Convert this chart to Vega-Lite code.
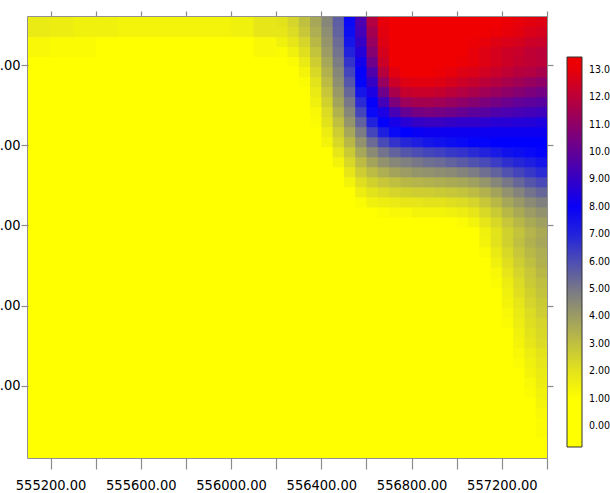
{
  "$schema": "https://vega.github.io/schema/vega-lite/v6.json",
  "autosize": {"type": "none"},
  "padding": {"left": 28, "top": 17, "right": 63, "bottom": 35},
  "width": 519,
  "height": 441,
  "background": "white",
  "config": {"view": {"stroke": "#6e6e6e", "strokeWidth": 1.5}},
  "datasets": {
    "coarse": [
{"e":555100,"n":2419340,"v":1.8},{"e":555200,"n":2419340,"v":1.7},{"e":555300,"n":2419340,"v":1.6},{"e":555400,"n":2419340,"v":1.6},{"e":555500,"n":2419340,"v":1.5},{"e":555600,"n":2419340,"v":1.5},{"e":555700,"n":2419340,"v":1.5},{"e":555800,"n":2419340,"v":1.5},{"e":555900,"n":2419340,"v":1.5},{"e":556000,"n":2419340,"v":1.6},{"e":556100,"n":2419340,"v":1.9},
{"e":555100,"n":2419240,"v":1.4},{"e":555200,"n":2419240,"v":1.3},{"e":555300,"n":2419240,"v":1.3},{"e":555400,"n":2419240,"v":1.2},{"e":555500,"n":2419240,"v":1.2},{"e":555600,"n":2419240,"v":1.2},{"e":555700,"n":2419240,"v":1.2},{"e":555800,"n":2419240,"v":1.2},{"e":555900,"n":2419240,"v":1.2},{"e":556000,"n":2419240,"v":1.2},{"e":556100,"n":2419240,"v":1.4},
{"e":555100,"n":2419140,"v":1.0},{"e":555200,"n":2419140,"v":0.9},{"e":555300,"n":2419140,"v":0.8},{"e":555400,"n":2419140,"v":0.7},{"e":555500,"n":2419140,"v":0.6},{"e":555600,"n":2419140,"v":0.6},{"e":555700,"n":2419140,"v":0.6},{"e":555800,"n":2419140,"v":0.6},{"e":555900,"n":2419140,"v":0.6},{"e":556000,"n":2419140,"v":0.7},{"e":556100,"n":2419140,"v":0.8},
{"e":555100,"n":2419040,"v":0.6},{"e":555200,"n":2419040,"v":0.5},{"e":555300,"n":2419040,"v":0.5},{"e":555400,"n":2419040,"v":0.4},{"e":555500,"n":2419040,"v":0.4},{"e":555600,"n":2419040,"v":0.4},{"e":555700,"n":2419040,"v":0.4},{"e":555800,"n":2419040,"v":0.4},{"e":555900,"n":2419040,"v":0.4},{"e":556000,"n":2419040,"v":0.5},{"e":556100,"n":2419040,"v":0.5},
{"e":555100,"n":2418940,"v":0.4},{"e":555200,"n":2418940,"v":0.4},{"e":555300,"n":2418940,"v":0.3},{"e":555400,"n":2418940,"v":0.3},{"e":555500,"n":2418940,"v":0.3},{"e":555600,"n":2418940,"v":0.3},{"e":555700,"n":2418940,"v":0.3},{"e":555800,"n":2418940,"v":0.3},{"e":555900,"n":2418940,"v":0.3},{"e":556000,"n":2418940,"v":0.3},{"e":556100,"n":2418940,"v":0.4},
{"e":555100,"n":2418840,"v":0.3},{"e":555200,"n":2418840,"v":0.3},{"e":555300,"n":2418840,"v":0.3},{"e":555400,"n":2418840,"v":0.2},{"e":555500,"n":2418840,"v":0.2},{"e":555600,"n":2418840,"v":0.2},{"e":555700,"n":2418840,"v":0.2},{"e":555800,"n":2418840,"v":0.2},{"e":555900,"n":2418840,"v":0.2},{"e":556000,"n":2418840,"v":0.3},{"e":556100,"n":2418840,"v":0.3},
{"e":555100,"n":2418740,"v":0.3},{"e":555200,"n":2418740,"v":0.2},{"e":555300,"n":2418740,"v":0.2},{"e":555400,"n":2418740,"v":0.2},{"e":555500,"n":2418740,"v":0.2},{"e":555600,"n":2418740,"v":0.2},{"e":555700,"n":2418740,"v":0.2},{"e":555800,"n":2418740,"v":0.2},{"e":555900,"n":2418740,"v":0.2},{"e":556000,"n":2418740,"v":0.2},{"e":556100,"n":2418740,"v":0.3},
{"e":555100,"n":2418640,"v":0.2},{"e":555200,"n":2418640,"v":0.2},{"e":555300,"n":2418640,"v":0.2},{"e":555400,"n":2418640,"v":0.2},{"e":555500,"n":2418640,"v":0.2},{"e":555600,"n":2418640,"v":0.2},{"e":555700,"n":2418640,"v":0.2},{"e":555800,"n":2418640,"v":0.2},{"e":555900,"n":2418640,"v":0.2},{"e":556000,"n":2418640,"v":0.2},{"e":556100,"n":2418640,"v":0.2},
{"e":555100,"n":2418540,"v":0.2},{"e":555200,"n":2418540,"v":0.2},{"e":555300,"n":2418540,"v":0.2},{"e":555400,"n":2418540,"v":0.2},{"e":555500,"n":2418540,"v":0.2},{"e":555600,"n":2418540,"v":0.2},{"e":555700,"n":2418540,"v":0.2},{"e":555800,"n":2418540,"v":0.2},{"e":555900,"n":2418540,"v":0.2},{"e":556000,"n":2418540,"v":0.2},{"e":556100,"n":2418540,"v":0.2},
{"e":555100,"n":2418440,"v":0.2},{"e":555200,"n":2418440,"v":0.2},{"e":555300,"n":2418440,"v":0.2},{"e":555400,"n":2418440,"v":0.2},{"e":555500,"n":2418440,"v":0.2},{"e":555600,"n":2418440,"v":0.2},{"e":555700,"n":2418440,"v":0.2},{"e":555800,"n":2418440,"v":0.2},{"e":555900,"n":2418440,"v":0.2},{"e":556000,"n":2418440,"v":0.2},{"e":556100,"n":2418440,"v":0.2},
{"e":555100,"n":2418340,"v":0.2},{"e":555200,"n":2418340,"v":0.2},{"e":555300,"n":2418340,"v":0.2},{"e":555400,"n":2418340,"v":0.2},{"e":555500,"n":2418340,"v":0.2},{"e":555600,"n":2418340,"v":0.2},{"e":555700,"n":2418340,"v":0.2},{"e":555800,"n":2418340,"v":0.2},{"e":555900,"n":2418340,"v":0.2},{"e":556000,"n":2418340,"v":0.2},{"e":556100,"n":2418340,"v":0.2},
{"e":555100,"n":2418240,"v":0.2},{"e":555200,"n":2418240,"v":0.2},{"e":555300,"n":2418240,"v":0.2},{"e":555400,"n":2418240,"v":0.2},{"e":555500,"n":2418240,"v":0.2},{"e":555600,"n":2418240,"v":0.2},{"e":555700,"n":2418240,"v":0.2},{"e":555800,"n":2418240,"v":0.2},{"e":555900,"n":2418240,"v":0.2},{"e":556000,"n":2418240,"v":0.2},{"e":556100,"n":2418240,"v":0.2},{"e":556200,"n":2418240,"v":0.2},{"e":556300,"n":2418240,"v":0.2},{"e":556400,"n":2418240,"v":0.2},{"e":556500,"n":2418240,"v":0.3},{"e":556600,"n":2418240,"v":0.4},{"e":556700,"n":2418240,"v":0.5},{"e":556800,"n":2418240,"v":0.6},{"e":556900,"n":2418240,"v":0.7},
{"e":555100,"n":2418140,"v":0.2},{"e":555200,"n":2418140,"v":0.2},{"e":555300,"n":2418140,"v":0.2},{"e":555400,"n":2418140,"v":0.2},{"e":555500,"n":2418140,"v":0.2},{"e":555600,"n":2418140,"v":0.2},{"e":555700,"n":2418140,"v":0.2},{"e":555800,"n":2418140,"v":0.2},{"e":555900,"n":2418140,"v":0.2},{"e":556000,"n":2418140,"v":0.2},{"e":556100,"n":2418140,"v":0.2},{"e":556200,"n":2418140,"v":0.2},{"e":556300,"n":2418140,"v":0.2},{"e":556400,"n":2418140,"v":0.2},{"e":556500,"n":2418140,"v":0.2},{"e":556600,"n":2418140,"v":0.2},{"e":556700,"n":2418140,"v":0.3},{"e":556800,"n":2418140,"v":0.4},{"e":556900,"n":2418140,"v":0.6},
{"e":555100,"n":2418040,"v":0.2},{"e":555200,"n":2418040,"v":0.2},{"e":555300,"n":2418040,"v":0.2},{"e":555400,"n":2418040,"v":0.2},{"e":555500,"n":2418040,"v":0.2},{"e":555600,"n":2418040,"v":0.2},{"e":555700,"n":2418040,"v":0.2},{"e":555800,"n":2418040,"v":0.2},{"e":555900,"n":2418040,"v":0.2},{"e":556000,"n":2418040,"v":0.2},{"e":556100,"n":2418040,"v":0.2},{"e":556200,"n":2418040,"v":0.2},{"e":556300,"n":2418040,"v":0.2},{"e":556400,"n":2418040,"v":0.2},{"e":556500,"n":2418040,"v":0.2},{"e":556600,"n":2418040,"v":0.2},{"e":556700,"n":2418040,"v":0.2},{"e":556800,"n":2418040,"v":0.3},{"e":556900,"n":2418040,"v":0.5},
{"e":555100,"n":2417940,"v":0.2},{"e":555200,"n":2417940,"v":0.2},{"e":555300,"n":2417940,"v":0.2},{"e":555400,"n":2417940,"v":0.2},{"e":555500,"n":2417940,"v":0.2},{"e":555600,"n":2417940,"v":0.2},{"e":555700,"n":2417940,"v":0.2},{"e":555800,"n":2417940,"v":0.2},{"e":555900,"n":2417940,"v":0.2},{"e":556000,"n":2417940,"v":0.2},{"e":556100,"n":2417940,"v":0.2},{"e":556200,"n":2417940,"v":0.2},{"e":556300,"n":2417940,"v":0.2},{"e":556400,"n":2417940,"v":0.2},{"e":556500,"n":2417940,"v":0.2},{"e":556600,"n":2417940,"v":0.2},{"e":556700,"n":2417940,"v":0.2},{"e":556800,"n":2417940,"v":0.2},{"e":556900,"n":2417940,"v":0.4},
{"e":555100,"n":2417840,"v":0.2},{"e":555200,"n":2417840,"v":0.2},{"e":555300,"n":2417840,"v":0.2},{"e":555400,"n":2417840,"v":0.2},{"e":555500,"n":2417840,"v":0.2},{"e":555600,"n":2417840,"v":0.2},{"e":555700,"n":2417840,"v":0.2},{"e":555800,"n":2417840,"v":0.2},{"e":555900,"n":2417840,"v":0.2},{"e":556000,"n":2417840,"v":0.2},{"e":556100,"n":2417840,"v":0.2},{"e":556200,"n":2417840,"v":0.2},{"e":556300,"n":2417840,"v":0.2},{"e":556400,"n":2417840,"v":0.2},{"e":556500,"n":2417840,"v":0.2},{"e":556600,"n":2417840,"v":0.2},{"e":556700,"n":2417840,"v":0.2},{"e":556800,"n":2417840,"v":0.2},{"e":556900,"n":2417840,"v":0.2},
{"e":555100,"n":2417740,"v":0.2},{"e":555200,"n":2417740,"v":0.2},{"e":555300,"n":2417740,"v":0.2},{"e":555400,"n":2417740,"v":0.2},{"e":555500,"n":2417740,"v":0.2},{"e":555600,"n":2417740,"v":0.2},{"e":555700,"n":2417740,"v":0.2},{"e":555800,"n":2417740,"v":0.2},{"e":555900,"n":2417740,"v":0.2},{"e":556000,"n":2417740,"v":0.2},{"e":556100,"n":2417740,"v":0.2},{"e":556200,"n":2417740,"v":0.2},{"e":556300,"n":2417740,"v":0.2},{"e":556400,"n":2417740,"v":0.2},{"e":556500,"n":2417740,"v":0.2},{"e":556600,"n":2417740,"v":0.2},{"e":556700,"n":2417740,"v":0.2},{"e":556800,"n":2417740,"v":0.2},{"e":556900,"n":2417740,"v":0.2},
{"e":555100,"n":2417640,"v":0.2},{"e":555200,"n":2417640,"v":0.2},{"e":555300,"n":2417640,"v":0.2},{"e":555400,"n":2417640,"v":0.2},{"e":555500,"n":2417640,"v":0.2},{"e":555600,"n":2417640,"v":0.2},{"e":555700,"n":2417640,"v":0.2},{"e":555800,"n":2417640,"v":0.2},{"e":555900,"n":2417640,"v":0.2},{"e":556000,"n":2417640,"v":0.2},{"e":556100,"n":2417640,"v":0.2},{"e":556200,"n":2417640,"v":0.2},{"e":556300,"n":2417640,"v":0.2},{"e":556400,"n":2417640,"v":0.2},{"e":556500,"n":2417640,"v":0.2},{"e":556600,"n":2417640,"v":0.2},{"e":556700,"n":2417640,"v":0.2},{"e":556800,"n":2417640,"v":0.2},{"e":556900,"n":2417640,"v":0.2},
{"e":555100,"n":2417540,"v":0.2},{"e":555200,"n":2417540,"v":0.2},{"e":555300,"n":2417540,"v":0.2},{"e":555400,"n":2417540,"v":0.2},{"e":555500,"n":2417540,"v":0.2},{"e":555600,"n":2417540,"v":0.2},{"e":555700,"n":2417540,"v":0.2},{"e":555800,"n":2417540,"v":0.2},{"e":555900,"n":2417540,"v":0.2},{"e":556000,"n":2417540,"v":0.2},{"e":556100,"n":2417540,"v":0.2},{"e":556200,"n":2417540,"v":0.2},{"e":556300,"n":2417540,"v":0.2},{"e":556400,"n":2417540,"v":0.2},{"e":556500,"n":2417540,"v":0.2},{"e":556600,"n":2417540,"v":0.2},{"e":556700,"n":2417540,"v":0.2},{"e":556800,"n":2417540,"v":0.2},{"e":556900,"n":2417540,"v":0.2},
{"e":555100,"n":2417440,"v":0.2},{"e":555200,"n":2417440,"v":0.2},{"e":555300,"n":2417440,"v":0.2},{"e":555400,"n":2417440,"v":0.2},{"e":555500,"n":2417440,"v":0.2},{"e":555600,"n":2417440,"v":0.2},{"e":555700,"n":2417440,"v":0.2},{"e":555800,"n":2417440,"v":0.2},{"e":555900,"n":2417440,"v":0.2},{"e":556000,"n":2417440,"v":0.2},{"e":556100,"n":2417440,"v":0.2},{"e":556200,"n":2417440,"v":0.2},{"e":556300,"n":2417440,"v":0.2},{"e":556400,"n":2417440,"v":0.2},{"e":556500,"n":2417440,"v":0.2},{"e":556600,"n":2417440,"v":0.2},{"e":556700,"n":2417440,"v":0.2},{"e":556800,"n":2417440,"v":0.2},{"e":556900,"n":2417440,"v":0.2},
{"e":555100,"n":2417340,"v":0.2},{"e":555200,"n":2417340,"v":0.2},{"e":555300,"n":2417340,"v":0.2},{"e":555400,"n":2417340,"v":0.2},{"e":555500,"n":2417340,"v":0.2},{"e":555600,"n":2417340,"v":0.2},{"e":555700,"n":2417340,"v":0.2},{"e":555800,"n":2417340,"v":0.2},{"e":555900,"n":2417340,"v":0.2},{"e":556000,"n":2417340,"v":0.2},{"e":556100,"n":2417340,"v":0.2},{"e":556200,"n":2417340,"v":0.2},{"e":556300,"n":2417340,"v":0.2},{"e":556400,"n":2417340,"v":0.2},{"e":556500,"n":2417340,"v":0.2},{"e":556600,"n":2417340,"v":0.2},{"e":556700,"n":2417340,"v":0.2},{"e":556800,"n":2417340,"v":0.2},{"e":556900,"n":2417340,"v":0.2},
{"e":555100,"n":2417240,"v":0.2},{"e":555200,"n":2417240,"v":0.2},{"e":555300,"n":2417240,"v":0.2},{"e":555400,"n":2417240,"v":0.2},{"e":555500,"n":2417240,"v":0.2},{"e":555600,"n":2417240,"v":0.2},{"e":555700,"n":2417240,"v":0.2},{"e":555800,"n":2417240,"v":0.2},{"e":555900,"n":2417240,"v":0.2},{"e":556000,"n":2417240,"v":0.2},{"e":556100,"n":2417240,"v":0.2},{"e":556200,"n":2417240,"v":0.2},{"e":556300,"n":2417240,"v":0.2},{"e":556400,"n":2417240,"v":0.2},{"e":556500,"n":2417240,"v":0.2},{"e":556600,"n":2417240,"v":0.2},{"e":556700,"n":2417240,"v":0.2},{"e":556800,"n":2417240,"v":0.2},{"e":556900,"n":2417240,"v":0.2}
    ],
    "fine": [
{"e":556200,"n":2419390,"v":2.0},{"e":556250,"n":2419390,"v":2.4},{"e":556300,"n":2419390,"v":3.0},{"e":556350,"n":2419390,"v":3.7},{"e":556400,"n":2419390,"v":4.6},{"e":556450,"n":2419390,"v":5.6},{"e":556500,"n":2419390,"v":7.6},{"e":556550,"n":2419390,"v":9.5},{"e":556600,"n":2419390,"v":11.8},{"e":556650,"n":2419390,"v":13.0},{"e":556700,"n":2419390,"v":13.4},{"e":556750,"n":2419390,"v":13.5},{"e":556800,"n":2419390,"v":13.5},{"e":556850,"n":2419390,"v":13.5},{"e":556900,"n":2419390,"v":13.5},{"e":556950,"n":2419390,"v":13.5},{"e":557000,"n":2419390,"v":13.4},{"e":557050,"n":2419390,"v":13.4},{"e":557100,"n":2419390,"v":13.3},{"e":557150,"n":2419390,"v":13.2},{"e":557200,"n":2419390,"v":13.1},{"e":557250,"n":2419390,"v":13.0},{"e":557300,"n":2419390,"v":12.9},{"e":557350,"n":2419390,"v":12.8},
{"e":556200,"n":2419340,"v":1.9},{"e":556250,"n":2419340,"v":2.2},{"e":556300,"n":2419340,"v":2.8},{"e":556350,"n":2419340,"v":3.5},{"e":556400,"n":2419340,"v":4.4},{"e":556450,"n":2419340,"v":5.5},{"e":556500,"n":2419340,"v":7.5},{"e":556550,"n":2419340,"v":9.3},{"e":556600,"n":2419340,"v":11.5},{"e":556650,"n":2419340,"v":12.9},{"e":556700,"n":2419340,"v":13.4},{"e":556750,"n":2419340,"v":13.5},{"e":556800,"n":2419340,"v":13.5},{"e":556850,"n":2419340,"v":13.5},{"e":556900,"n":2419340,"v":13.5},{"e":556950,"n":2419340,"v":13.5},{"e":557000,"n":2419340,"v":13.4},{"e":557050,"n":2419340,"v":13.3},{"e":557100,"n":2419340,"v":13.2},{"e":557150,"n":2419340,"v":13.1},{"e":557200,"n":2419340,"v":13.0},{"e":557250,"n":2419340,"v":12.9},{"e":557300,"n":2419340,"v":12.7},{"e":557350,"n":2419340,"v":12.6},
{"e":556200,"n":2419290,"v":1.6},{"e":556250,"n":2419290,"v":1.9},{"e":556300,"n":2419290,"v":2.4},{"e":556350,"n":2419290,"v":3.2},{"e":556400,"n":2419290,"v":4.2},{"e":556450,"n":2419290,"v":5.3},{"e":556500,"n":2419290,"v":7.3},{"e":556550,"n":2419290,"v":9.0},{"e":556600,"n":2419290,"v":11.2},{"e":556650,"n":2419290,"v":12.8},{"e":556700,"n":2419290,"v":13.3},{"e":556750,"n":2419290,"v":13.4},{"e":556800,"n":2419290,"v":13.4},{"e":556850,"n":2419290,"v":13.4},{"e":556900,"n":2419290,"v":13.4},{"e":556950,"n":2419290,"v":13.3},{"e":557000,"n":2419290,"v":13.2},{"e":557050,"n":2419290,"v":13.1},{"e":557100,"n":2419290,"v":13.0},{"e":557150,"n":2419290,"v":12.8},{"e":557200,"n":2419290,"v":12.7},{"e":557250,"n":2419290,"v":12.6},{"e":557300,"n":2419290,"v":12.4},{"e":557350,"n":2419290,"v":12.3},
{"e":556200,"n":2419240,"v":1.3},{"e":556250,"n":2419240,"v":1.6},{"e":556300,"n":2419240,"v":2.1},{"e":556350,"n":2419240,"v":2.9},{"e":556400,"n":2419240,"v":4.0},{"e":556450,"n":2419240,"v":5.1},{"e":556500,"n":2419240,"v":7.0},{"e":556550,"n":2419240,"v":8.6},{"e":556600,"n":2419240,"v":10.8},{"e":556650,"n":2419240,"v":12.6},{"e":556700,"n":2419240,"v":13.3},{"e":556750,"n":2419240,"v":13.4},{"e":556800,"n":2419240,"v":13.4},{"e":556850,"n":2419240,"v":13.4},{"e":556900,"n":2419240,"v":13.4},{"e":556950,"n":2419240,"v":13.3},{"e":557000,"n":2419240,"v":13.2},{"e":557050,"n":2419240,"v":13.0},{"e":557100,"n":2419240,"v":12.8},{"e":557150,"n":2419240,"v":12.6},{"e":557200,"n":2419240,"v":12.4},{"e":557250,"n":2419240,"v":12.3},{"e":557300,"n":2419240,"v":12.1},{"e":557350,"n":2419240,"v":12.0},
{"e":556200,"n":2419190,"v":1.1},{"e":556250,"n":2419190,"v":1.3},{"e":556300,"n":2419190,"v":1.8},{"e":556350,"n":2419190,"v":2.6},{"e":556400,"n":2419190,"v":3.7},{"e":556450,"n":2419190,"v":4.9},{"e":556500,"n":2419190,"v":6.6},{"e":556550,"n":2419190,"v":8.2},{"e":556600,"n":2419190,"v":10.3},{"e":556650,"n":2419190,"v":12.4},{"e":556700,"n":2419190,"v":13.2},{"e":556750,"n":2419190,"v":13.4},{"e":556800,"n":2419190,"v":13.4},{"e":556850,"n":2419190,"v":13.4},{"e":556900,"n":2419190,"v":13.3},{"e":556950,"n":2419190,"v":13.2},{"e":557000,"n":2419190,"v":13.1},{"e":557050,"n":2419190,"v":13.0},{"e":557100,"n":2419190,"v":12.8},{"e":557150,"n":2419190,"v":12.6},{"e":557200,"n":2419190,"v":12.4},{"e":557250,"n":2419190,"v":12.2},{"e":557300,"n":2419190,"v":12.1},{"e":557350,"n":2419190,"v":12.0},
{"e":556200,"n":2419140,"v":0.9},{"e":556250,"n":2419140,"v":1.1},{"e":556300,"n":2419140,"v":1.5},{"e":556350,"n":2419140,"v":2.3},{"e":556400,"n":2419140,"v":3.4},{"e":556450,"n":2419140,"v":4.6},{"e":556500,"n":2419140,"v":6.2},{"e":556550,"n":2419140,"v":7.9},{"e":556600,"n":2419140,"v":9.6},{"e":556650,"n":2419140,"v":11.9},{"e":556700,"n":2419140,"v":12.9},{"e":556750,"n":2419140,"v":13.2},{"e":556800,"n":2419140,"v":13.2},{"e":556850,"n":2419140,"v":13.2},{"e":556900,"n":2419140,"v":13.1},{"e":556950,"n":2419140,"v":13.0},{"e":557000,"n":2419140,"v":12.8},{"e":557050,"n":2419140,"v":12.7},{"e":557100,"n":2419140,"v":12.5},{"e":557150,"n":2419140,"v":12.3},{"e":557200,"n":2419140,"v":12.1},{"e":557250,"n":2419140,"v":11.9},{"e":557300,"n":2419140,"v":11.8},{"e":557350,"n":2419140,"v":11.6},
{"e":556200,"n":2419090,"v":0.8},{"e":556250,"n":2419090,"v":1.0},{"e":556300,"n":2419090,"v":1.3},{"e":556350,"n":2419090,"v":2.0},{"e":556400,"n":2419090,"v":3.1},{"e":556450,"n":2419090,"v":4.4},{"e":556500,"n":2419090,"v":5.8},{"e":556550,"n":2419090,"v":7.7},{"e":556600,"n":2419090,"v":9.0},{"e":556650,"n":2419090,"v":11.2},{"e":556700,"n":2419090,"v":12.4},{"e":556750,"n":2419090,"v":12.8},{"e":556800,"n":2419090,"v":12.9},{"e":556850,"n":2419090,"v":12.9},{"e":556900,"n":2419090,"v":12.8},{"e":556950,"n":2419090,"v":12.6},{"e":557000,"n":2419090,"v":12.4},{"e":557050,"n":2419090,"v":12.2},{"e":557100,"n":2419090,"v":12.0},{"e":557150,"n":2419090,"v":11.8},{"e":557200,"n":2419090,"v":11.6},{"e":557250,"n":2419090,"v":11.4},{"e":557300,"n":2419090,"v":11.2},{"e":557350,"n":2419090,"v":11.0},
{"e":556200,"n":2419040,"v":0.7},{"e":556250,"n":2419040,"v":0.9},{"e":556300,"n":2419040,"v":1.2},{"e":556350,"n":2419040,"v":1.8},{"e":556400,"n":2419040,"v":2.8},{"e":556450,"n":2419040,"v":4.1},{"e":556500,"n":2419040,"v":5.4},{"e":556550,"n":2419040,"v":7.3},{"e":556600,"n":2419040,"v":8.4},{"e":556650,"n":2419040,"v":10.3},{"e":556700,"n":2419040,"v":11.6},{"e":556750,"n":2419040,"v":12.2},{"e":556800,"n":2419040,"v":12.3},{"e":556850,"n":2419040,"v":12.3},{"e":556900,"n":2419040,"v":12.2},{"e":556950,"n":2419040,"v":12.0},{"e":557000,"n":2419040,"v":11.8},{"e":557050,"n":2419040,"v":11.6},{"e":557100,"n":2419040,"v":11.4},{"e":557150,"n":2419040,"v":11.2},{"e":557200,"n":2419040,"v":11.0},{"e":557250,"n":2419040,"v":10.8},{"e":557300,"n":2419040,"v":10.6},{"e":557350,"n":2419040,"v":10.4},
{"e":556200,"n":2418990,"v":0.6},{"e":556250,"n":2418990,"v":0.8},{"e":556300,"n":2418990,"v":1.1},{"e":556350,"n":2418990,"v":1.6},{"e":556400,"n":2418990,"v":2.5},{"e":556450,"n":2418990,"v":3.8},{"e":556500,"n":2418990,"v":5.0},{"e":556550,"n":2418990,"v":6.8},{"e":556600,"n":2418990,"v":7.9},{"e":556650,"n":2418990,"v":9.3},{"e":556700,"n":2418990,"v":10.6},{"e":556750,"n":2418990,"v":11.3},{"e":556800,"n":2418990,"v":11.5},{"e":556850,"n":2418990,"v":11.5},{"e":556900,"n":2418990,"v":11.4},{"e":556950,"n":2418990,"v":11.2},{"e":557000,"n":2418990,"v":11.0},{"e":557050,"n":2418990,"v":10.8},{"e":557100,"n":2418990,"v":10.6},{"e":557150,"n":2418990,"v":10.4},{"e":557200,"n":2418990,"v":10.2},{"e":557250,"n":2418990,"v":10.0},{"e":557300,"n":2418990,"v":9.9},{"e":557350,"n":2418990,"v":9.8},
{"e":556200,"n":2418940,"v":0.6},{"e":556250,"n":2418940,"v":0.7},{"e":556300,"n":2418940,"v":1.0},{"e":556350,"n":2418940,"v":1.4},{"e":556400,"n":2418940,"v":2.2},{"e":556450,"n":2418940,"v":3.4},{"e":556500,"n":2418940,"v":4.6},{"e":556550,"n":2418940,"v":6.2},{"e":556600,"n":2418940,"v":7.6},{"e":556650,"n":2418940,"v":8.4},{"e":556700,"n":2418940,"v":9.4},{"e":556750,"n":2418940,"v":10.1},{"e":556800,"n":2418940,"v":10.4},{"e":556850,"n":2418940,"v":10.5},{"e":556900,"n":2418940,"v":10.4},{"e":556950,"n":2418940,"v":10.3},{"e":557000,"n":2418940,"v":10.1},{"e":557050,"n":2418940,"v":9.9},{"e":557100,"n":2418940,"v":9.8},{"e":557150,"n":2418940,"v":9.6},{"e":557200,"n":2418940,"v":9.5},{"e":557250,"n":2418940,"v":9.4},{"e":557300,"n":2418940,"v":9.3},{"e":557350,"n":2418940,"v":9.2},
{"e":556200,"n":2418890,"v":0.5},{"e":556250,"n":2418890,"v":0.6},{"e":556300,"n":2418890,"v":0.9},{"e":556350,"n":2418890,"v":1.3},{"e":556400,"n":2418890,"v":2.0},{"e":556450,"n":2418890,"v":3.0},{"e":556500,"n":2418890,"v":4.2},{"e":556550,"n":2418890,"v":5.5},{"e":556600,"n":2418890,"v":7.0},{"e":556650,"n":2418890,"v":7.9},{"e":556700,"n":2418890,"v":8.3},{"e":556750,"n":2418890,"v":8.7},{"e":556800,"n":2418890,"v":9.0},{"e":556850,"n":2418890,"v":9.1},{"e":556900,"n":2418890,"v":9.1},{"e":556950,"n":2418890,"v":9.0},{"e":557000,"n":2418890,"v":8.9},{"e":557050,"n":2418890,"v":8.9},{"e":557100,"n":2418890,"v":8.8},{"e":557150,"n":2418890,"v":8.7},{"e":557200,"n":2418890,"v":8.7},{"e":557250,"n":2418890,"v":8.6},{"e":557300,"n":2418890,"v":8.6},{"e":557350,"n":2418890,"v":8.5},
{"e":556200,"n":2418840,"v":0.5},{"e":556250,"n":2418840,"v":0.6},{"e":556300,"n":2418840,"v":0.8},{"e":556350,"n":2418840,"v":1.1},{"e":556400,"n":2418840,"v":1.7},{"e":556450,"n":2418840,"v":2.6},{"e":556500,"n":2418840,"v":3.7},{"e":556550,"n":2418840,"v":4.9},{"e":556600,"n":2418840,"v":6.2},{"e":556650,"n":2418840,"v":7.1},{"e":556700,"n":2418840,"v":7.6},{"e":556750,"n":2418840,"v":7.8},{"e":556800,"n":2418840,"v":8.0},{"e":556850,"n":2418840,"v":8.1},{"e":556900,"n":2418840,"v":8.1},{"e":556950,"n":2418840,"v":8.1},{"e":557000,"n":2418840,"v":8.1},{"e":557050,"n":2418840,"v":8.1},{"e":557100,"n":2418840,"v":8.1},{"e":557150,"n":2418840,"v":8.1},{"e":557200,"n":2418840,"v":8.1},{"e":557250,"n":2418840,"v":8.1},{"e":557300,"n":2418840,"v":8.1},{"e":557350,"n":2418840,"v":8.1},
{"e":556200,"n":2418790,"v":0.4},{"e":556250,"n":2418790,"v":0.5},{"e":556300,"n":2418790,"v":0.7},{"e":556350,"n":2418790,"v":1.0},{"e":556400,"n":2418790,"v":1.5},{"e":556450,"n":2418790,"v":2.3},{"e":556500,"n":2418790,"v":3.2},{"e":556550,"n":2418790,"v":4.3},{"e":556600,"n":2418790,"v":5.3},{"e":556650,"n":2418790,"v":6.1},{"e":556700,"n":2418790,"v":6.6},{"e":556750,"n":2418790,"v":6.9},{"e":556800,"n":2418790,"v":7.1},{"e":556850,"n":2418790,"v":7.3},{"e":556900,"n":2418790,"v":7.4},{"e":556950,"n":2418790,"v":7.5},{"e":557000,"n":2418790,"v":7.6},{"e":557050,"n":2418790,"v":7.7},{"e":557100,"n":2418790,"v":7.7},{"e":557150,"n":2418790,"v":7.8},{"e":557200,"n":2418790,"v":7.8},{"e":557250,"n":2418790,"v":7.8},{"e":557300,"n":2418790,"v":7.8},{"e":557350,"n":2418790,"v":7.8},
{"e":556200,"n":2418740,"v":0.4},{"e":556250,"n":2418740,"v":0.5},{"e":556300,"n":2418740,"v":0.6},{"e":556350,"n":2418740,"v":0.8},{"e":556400,"n":2418740,"v":1.2},{"e":556450,"n":2418740,"v":1.9},{"e":556500,"n":2418740,"v":2.7},{"e":556550,"n":2418740,"v":3.7},{"e":556600,"n":2418740,"v":4.5},{"e":556650,"n":2418740,"v":5.1},{"e":556700,"n":2418740,"v":5.5},{"e":556750,"n":2418740,"v":5.8},{"e":556800,"n":2418740,"v":6.0},{"e":556850,"n":2418740,"v":6.2},{"e":556900,"n":2418740,"v":6.3},{"e":556950,"n":2418740,"v":6.5},{"e":557000,"n":2418740,"v":6.6},{"e":557050,"n":2418740,"v":6.8},{"e":557100,"n":2418740,"v":7.0},{"e":557150,"n":2418740,"v":7.2},{"e":557200,"n":2418740,"v":7.4},{"e":557250,"n":2418740,"v":7.5},{"e":557300,"n":2418740,"v":7.6},{"e":557350,"n":2418740,"v":7.7},
{"e":556200,"n":2418690,"v":0.3},{"e":556250,"n":2418690,"v":0.4},{"e":556300,"n":2418690,"v":0.5},{"e":556350,"n":2418690,"v":0.7},{"e":556400,"n":2418690,"v":1.0},{"e":556450,"n":2418690,"v":1.5},{"e":556500,"n":2418690,"v":2.3},{"e":556550,"n":2418690,"v":3.1},{"e":556600,"n":2418690,"v":3.8},{"e":556650,"n":2418690,"v":4.3},{"e":556700,"n":2418690,"v":4.6},{"e":556750,"n":2418690,"v":4.8},{"e":556800,"n":2418690,"v":5.0},{"e":556850,"n":2418690,"v":5.2},{"e":556900,"n":2418690,"v":5.3},{"e":556950,"n":2418690,"v":5.5},{"e":557000,"n":2418690,"v":5.7},{"e":557050,"n":2418690,"v":5.9},{"e":557100,"n":2418690,"v":6.1},{"e":557150,"n":2418690,"v":6.4},{"e":557200,"n":2418690,"v":6.7},{"e":557250,"n":2418690,"v":6.9},{"e":557300,"n":2418690,"v":7.1},{"e":557350,"n":2418690,"v":7.3},
{"e":556200,"n":2418640,"v":0.3},{"e":556250,"n":2418640,"v":0.3},{"e":556300,"n":2418640,"v":0.4},{"e":556350,"n":2418640,"v":0.6},{"e":556400,"n":2418640,"v":0.8},{"e":556450,"n":2418640,"v":1.2},{"e":556500,"n":2418640,"v":1.9},{"e":556550,"n":2418640,"v":2.6},{"e":556600,"n":2418640,"v":3.1},{"e":556650,"n":2418640,"v":3.5},{"e":556700,"n":2418640,"v":3.8},{"e":556750,"n":2418640,"v":4.0},{"e":556800,"n":2418640,"v":4.2},{"e":556850,"n":2418640,"v":4.3},{"e":556900,"n":2418640,"v":4.4},{"e":556950,"n":2418640,"v":4.5},{"e":557000,"n":2418640,"v":4.7},{"e":557050,"n":2418640,"v":4.9},{"e":557100,"n":2418640,"v":5.2},{"e":557150,"n":2418640,"v":5.5},{"e":557200,"n":2418640,"v":5.9},{"e":557250,"n":2418640,"v":6.2},{"e":557300,"n":2418640,"v":6.5},{"e":557350,"n":2418640,"v":6.8},
{"e":556200,"n":2418590,"v":0.3},{"e":556250,"n":2418590,"v":0.3},{"e":556300,"n":2418590,"v":0.4},{"e":556350,"n":2418590,"v":0.5},{"e":556400,"n":2418590,"v":0.6},{"e":556450,"n":2418590,"v":0.9},{"e":556500,"n":2418590,"v":1.5},{"e":556550,"n":2418590,"v":2.1},{"e":556600,"n":2418590,"v":2.5},{"e":556650,"n":2418590,"v":2.8},{"e":556700,"n":2418590,"v":3.0},{"e":556750,"n":2418590,"v":3.2},{"e":556800,"n":2418590,"v":3.3},{"e":556850,"n":2418590,"v":3.4},{"e":556900,"n":2418590,"v":3.5},{"e":556950,"n":2418590,"v":3.6},{"e":557000,"n":2418590,"v":3.7},{"e":557050,"n":2418590,"v":3.9},{"e":557100,"n":2418590,"v":4.2},{"e":557150,"n":2418590,"v":4.6},{"e":557200,"n":2418590,"v":5.0},{"e":557250,"n":2418590,"v":5.4},{"e":557300,"n":2418590,"v":5.8},{"e":557350,"n":2418590,"v":6.1},
{"e":556200,"n":2418540,"v":0.2},{"e":556250,"n":2418540,"v":0.3},{"e":556300,"n":2418540,"v":0.3},{"e":556350,"n":2418540,"v":0.4},{"e":556400,"n":2418540,"v":0.5},{"e":556450,"n":2418540,"v":0.7},{"e":556500,"n":2418540,"v":1.2},{"e":556550,"n":2418540,"v":1.7},{"e":556600,"n":2418540,"v":2.0},{"e":556650,"n":2418540,"v":2.2},{"e":556700,"n":2418540,"v":2.4},{"e":556750,"n":2418540,"v":2.5},{"e":556800,"n":2418540,"v":2.6},{"e":556850,"n":2418540,"v":2.6},{"e":556900,"n":2418540,"v":2.7},{"e":556950,"n":2418540,"v":2.8},{"e":557000,"n":2418540,"v":2.9},{"e":557050,"n":2418540,"v":3.1},{"e":557100,"n":2418540,"v":3.4},{"e":557150,"n":2418540,"v":3.8},{"e":557200,"n":2418540,"v":4.3},{"e":557250,"n":2418540,"v":4.7},{"e":557300,"n":2418540,"v":5.1},{"e":557350,"n":2418540,"v":5.4},
{"e":556200,"n":2418490,"v":0.2},{"e":556250,"n":2418490,"v":0.2},{"e":556300,"n":2418490,"v":0.3},{"e":556350,"n":2418490,"v":0.3},{"e":556400,"n":2418490,"v":0.4},{"e":556450,"n":2418490,"v":0.5},{"e":556500,"n":2418490,"v":0.9},{"e":556550,"n":2418490,"v":1.3},{"e":556600,"n":2418490,"v":1.6},{"e":556650,"n":2418490,"v":1.7},{"e":556700,"n":2418490,"v":1.8},{"e":556750,"n":2418490,"v":1.9},{"e":556800,"n":2418490,"v":1.9},{"e":556850,"n":2418490,"v":2.0},{"e":556900,"n":2418490,"v":2.0},{"e":556950,"n":2418490,"v":2.1},{"e":557000,"n":2418490,"v":2.2},{"e":557050,"n":2418490,"v":2.4},{"e":557100,"n":2418490,"v":2.8},{"e":557150,"n":2418490,"v":3.2},{"e":557200,"n":2418490,"v":3.7},{"e":557250,"n":2418490,"v":4.1},{"e":557300,"n":2418490,"v":4.5},{"e":557350,"n":2418490,"v":4.8},
{"e":556200,"n":2418440,"v":0.2},{"e":556250,"n":2418440,"v":0.2},{"e":556300,"n":2418440,"v":0.2},{"e":556350,"n":2418440,"v":0.3},{"e":556400,"n":2418440,"v":0.3},{"e":556450,"n":2418440,"v":0.4},{"e":556500,"n":2418440,"v":0.6},{"e":556550,"n":2418440,"v":1.0},{"e":556600,"n":2418440,"v":1.2},{"e":556650,"n":2418440,"v":1.3},{"e":556700,"n":2418440,"v":1.4},{"e":556750,"n":2418440,"v":1.4},{"e":556800,"n":2418440,"v":1.5},{"e":556850,"n":2418440,"v":1.5},{"e":556900,"n":2418440,"v":1.5},{"e":556950,"n":2418440,"v":1.6},{"e":557000,"n":2418440,"v":1.7},{"e":557050,"n":2418440,"v":1.9},{"e":557100,"n":2418440,"v":2.3},{"e":557150,"n":2418440,"v":2.7},{"e":557200,"n":2418440,"v":3.2},{"e":557250,"n":2418440,"v":3.6},{"e":557300,"n":2418440,"v":4.0},{"e":557350,"n":2418440,"v":4.3},
{"e":556200,"n":2418390,"v":0.2},{"e":556250,"n":2418390,"v":0.2},{"e":556300,"n":2418390,"v":0.2},{"e":556350,"n":2418390,"v":0.2},{"e":556400,"n":2418390,"v":0.3},{"e":556450,"n":2418390,"v":0.3},{"e":556500,"n":2418390,"v":0.4},{"e":556550,"n":2418390,"v":0.7},{"e":556600,"n":2418390,"v":0.9},{"e":556650,"n":2418390,"v":1.0},{"e":556700,"n":2418390,"v":1.0},{"e":556750,"n":2418390,"v":1.1},{"e":556800,"n":2418390,"v":1.1},{"e":556850,"n":2418390,"v":1.1},{"e":556900,"n":2418390,"v":1.1},{"e":556950,"n":2418390,"v":1.2},{"e":557000,"n":2418390,"v":1.3},{"e":557050,"n":2418390,"v":1.5},{"e":557100,"n":2418390,"v":1.9},{"e":557150,"n":2418390,"v":2.3},{"e":557200,"n":2418390,"v":2.8},{"e":557250,"n":2418390,"v":3.2},{"e":557300,"n":2418390,"v":3.6},{"e":557350,"n":2418390,"v":3.9},
{"e":556200,"n":2418340,"v":0.2},{"e":556250,"n":2418340,"v":0.2},{"e":556300,"n":2418340,"v":0.2},{"e":556350,"n":2418340,"v":0.2},{"e":556400,"n":2418340,"v":0.2},{"e":556450,"n":2418340,"v":0.3},{"e":556500,"n":2418340,"v":0.3},{"e":556550,"n":2418340,"v":0.5},{"e":556600,"n":2418340,"v":0.7},{"e":556650,"n":2418340,"v":0.8},{"e":556700,"n":2418340,"v":0.8},{"e":556750,"n":2418340,"v":0.8},{"e":556800,"n":2418340,"v":0.9},{"e":556850,"n":2418340,"v":0.9},{"e":556900,"n":2418340,"v":0.9},{"e":556950,"n":2418340,"v":1.0},{"e":557000,"n":2418340,"v":1.1},{"e":557050,"n":2418340,"v":1.2},{"e":557100,"n":2418340,"v":1.6},{"e":557150,"n":2418340,"v":2.0},{"e":557200,"n":2418340,"v":2.5},{"e":557250,"n":2418340,"v":2.9},{"e":557300,"n":2418340,"v":3.3},{"e":557350,"n":2418340,"v":3.6},
{"e":557000,"n":2418290,"v":0.9},{"e":557050,"n":2418290,"v":1.1},{"e":557100,"n":2418290,"v":1.5},{"e":557150,"n":2418290,"v":2.0},{"e":557200,"n":2418290,"v":2.5},{"e":557250,"n":2418290,"v":3.0},{"e":557300,"n":2418290,"v":3.4},{"e":557350,"n":2418290,"v":3.7},
{"e":557000,"n":2418240,"v":0.8},{"e":557050,"n":2418240,"v":1.0},{"e":557100,"n":2418240,"v":1.3},{"e":557150,"n":2418240,"v":1.8},{"e":557200,"n":2418240,"v":2.3},{"e":557250,"n":2418240,"v":2.8},{"e":557300,"n":2418240,"v":3.2},{"e":557350,"n":2418240,"v":3.5},
{"e":557000,"n":2418190,"v":0.7},{"e":557050,"n":2418190,"v":0.9},{"e":557100,"n":2418190,"v":1.2},{"e":557150,"n":2418190,"v":1.6},{"e":557200,"n":2418190,"v":2.1},{"e":557250,"n":2418190,"v":2.6},{"e":557300,"n":2418190,"v":3.0},{"e":557350,"n":2418190,"v":3.4},
{"e":557000,"n":2418140,"v":0.6},{"e":557050,"n":2418140,"v":0.8},{"e":557100,"n":2418140,"v":1.1},{"e":557150,"n":2418140,"v":1.4},{"e":557200,"n":2418140,"v":1.9},{"e":557250,"n":2418140,"v":2.4},{"e":557300,"n":2418140,"v":2.8},{"e":557350,"n":2418140,"v":3.2},
{"e":557000,"n":2418090,"v":0.5},{"e":557050,"n":2418090,"v":0.7},{"e":557100,"n":2418090,"v":1.0},{"e":557150,"n":2418090,"v":1.3},{"e":557200,"n":2418090,"v":1.7},{"e":557250,"n":2418090,"v":2.2},{"e":557300,"n":2418090,"v":2.7},{"e":557350,"n":2418090,"v":3.0},
{"e":557000,"n":2418040,"v":0.5},{"e":557050,"n":2418040,"v":0.6},{"e":557100,"n":2418040,"v":0.9},{"e":557150,"n":2418040,"v":1.2},{"e":557200,"n":2418040,"v":1.6},{"e":557250,"n":2418040,"v":2.1},{"e":557300,"n":2418040,"v":2.5},{"e":557350,"n":2418040,"v":2.9},
{"e":557000,"n":2417990,"v":0.4},{"e":557050,"n":2417990,"v":0.6},{"e":557100,"n":2417990,"v":0.8},{"e":557150,"n":2417990,"v":1.1},{"e":557200,"n":2417990,"v":1.5},{"e":557250,"n":2417990,"v":1.9},{"e":557300,"n":2417990,"v":2.4},{"e":557350,"n":2417990,"v":2.7},
{"e":557000,"n":2417940,"v":0.4},{"e":557050,"n":2417940,"v":0.5},{"e":557100,"n":2417940,"v":0.7},{"e":557150,"n":2417940,"v":1.0},{"e":557200,"n":2417940,"v":1.4},{"e":557250,"n":2417940,"v":1.8},{"e":557300,"n":2417940,"v":2.2},{"e":557350,"n":2417940,"v":2.6},
{"e":557000,"n":2417890,"v":0.3},{"e":557050,"n":2417890,"v":0.5},{"e":557100,"n":2417890,"v":0.7},{"e":557150,"n":2417890,"v":0.9},{"e":557200,"n":2417890,"v":1.3},{"e":557250,"n":2417890,"v":1.7},{"e":557300,"n":2417890,"v":2.1},{"e":557350,"n":2417890,"v":2.4},
{"e":557000,"n":2417840,"v":0.3},{"e":557050,"n":2417840,"v":0.4},{"e":557100,"n":2417840,"v":0.6},{"e":557150,"n":2417840,"v":0.9},{"e":557200,"n":2417840,"v":1.2},{"e":557250,"n":2417840,"v":1.6},{"e":557300,"n":2417840,"v":2.0},{"e":557350,"n":2417840,"v":2.3},
{"e":557000,"n":2417790,"v":0.3},{"e":557050,"n":2417790,"v":0.4},{"e":557100,"n":2417790,"v":0.6},{"e":557150,"n":2417790,"v":0.8},{"e":557200,"n":2417790,"v":1.1},{"e":557250,"n":2417790,"v":1.5},{"e":557300,"n":2417790,"v":1.9},{"e":557350,"n":2417790,"v":2.2},
{"e":557000,"n":2417740,"v":0.3},{"e":557050,"n":2417740,"v":0.3},{"e":557100,"n":2417740,"v":0.5},{"e":557150,"n":2417740,"v":0.7},{"e":557200,"n":2417740,"v":1.0},{"e":557250,"n":2417740,"v":1.4},{"e":557300,"n":2417740,"v":1.7},{"e":557350,"n":2417740,"v":2.0},
{"e":557000,"n":2417690,"v":0.2},{"e":557050,"n":2417690,"v":0.3},{"e":557100,"n":2417690,"v":0.5},{"e":557150,"n":2417690,"v":0.7},{"e":557200,"n":2417690,"v":1.0},{"e":557250,"n":2417690,"v":1.3},{"e":557300,"n":2417690,"v":1.6},{"e":557350,"n":2417690,"v":1.9},
{"e":557000,"n":2417640,"v":0.2},{"e":557050,"n":2417640,"v":0.3},{"e":557100,"n":2417640,"v":0.4},{"e":557150,"n":2417640,"v":0.6},{"e":557200,"n":2417640,"v":0.9},{"e":557250,"n":2417640,"v":1.2},{"e":557300,"n":2417640,"v":1.5},{"e":557350,"n":2417640,"v":1.8},
{"e":557000,"n":2417590,"v":0.2},{"e":557050,"n":2417590,"v":0.3},{"e":557100,"n":2417590,"v":0.4},{"e":557150,"n":2417590,"v":0.6},{"e":557200,"n":2417590,"v":0.8},{"e":557250,"n":2417590,"v":1.1},{"e":557300,"n":2417590,"v":1.4},{"e":557350,"n":2417590,"v":1.7},
{"e":557000,"n":2417540,"v":0.2},{"e":557050,"n":2417540,"v":0.2},{"e":557100,"n":2417540,"v":0.4},{"e":557150,"n":2417540,"v":0.5},{"e":557200,"n":2417540,"v":0.8},{"e":557250,"n":2417540,"v":1.0},{"e":557300,"n":2417540,"v":1.3},{"e":557350,"n":2417540,"v":1.6},
{"e":557000,"n":2417490,"v":0.2},{"e":557050,"n":2417490,"v":0.2},{"e":557100,"n":2417490,"v":0.3},{"e":557150,"n":2417490,"v":0.5},{"e":557200,"n":2417490,"v":0.7},{"e":557250,"n":2417490,"v":1.0},{"e":557300,"n":2417490,"v":1.2},{"e":557350,"n":2417490,"v":1.5},
{"e":557000,"n":2417440,"v":0.2},{"e":557050,"n":2417440,"v":0.2},{"e":557100,"n":2417440,"v":0.3},{"e":557150,"n":2417440,"v":0.4},{"e":557200,"n":2417440,"v":0.6},{"e":557250,"n":2417440,"v":0.9},{"e":557300,"n":2417440,"v":1.2},{"e":557350,"n":2417440,"v":1.4},
{"e":557000,"n":2417390,"v":0.2},{"e":557050,"n":2417390,"v":0.2},{"e":557100,"n":2417390,"v":0.3},{"e":557150,"n":2417390,"v":0.4},{"e":557200,"n":2417390,"v":0.6},{"e":557250,"n":2417390,"v":0.8},{"e":557300,"n":2417390,"v":1.1},{"e":557350,"n":2417390,"v":1.3},
{"e":557000,"n":2417340,"v":0.2},{"e":557050,"n":2417340,"v":0.2},{"e":557100,"n":2417340,"v":0.3},{"e":557150,"n":2417340,"v":0.4},{"e":557200,"n":2417340,"v":0.5},{"e":557250,"n":2417340,"v":0.8},{"e":557300,"n":2417340,"v":1.0},{"e":557350,"n":2417340,"v":1.3},
{"e":557000,"n":2417290,"v":0.2},{"e":557050,"n":2417290,"v":0.2},{"e":557100,"n":2417290,"v":0.2},{"e":557150,"n":2417290,"v":0.3},{"e":557200,"n":2417290,"v":0.5},{"e":557250,"n":2417290,"v":0.7},{"e":557300,"n":2417290,"v":1.0},{"e":557350,"n":2417290,"v":1.2},
{"e":557000,"n":2417240,"v":0.2},{"e":557050,"n":2417240,"v":0.2},{"e":557100,"n":2417240,"v":0.2},{"e":557150,"n":2417240,"v":0.3},{"e":557200,"n":2417240,"v":0.5},{"e":557250,"n":2417240,"v":0.7},{"e":557300,"n":2417240,"v":0.9},{"e":557350,"n":2417240,"v":1.2}
    ]
  },
  "layer": [
    {
      "data": {"name": "coarse"},
      "mark": {"type": "rect", "binSpacing": -1, "clip": true},
      "encoding": {
        "x": {"field": "e", "type": "quantitative", "bin": {"binned": true, "step": 100},
              "scale": {"domain": [555100, 557400], "nice": false, "zero": false},
              "axis": {"orient": "bottom", "title": null, "grid": false, "domain": false,
                       "values": [555200,555400,555600,555800,556000,556200,556400,556600,556800,557000,557200,557400],
                       "format": ".2f", "labelExpr": "datum.value % 400 == 0 ? datum.label : ''",
                       "tickSize": 11, "tickColor": "#8a8a8a", "tickWidth": 1.2,
                       "labelFont": "DejaVu Sans Condensed", "labelFontSize": 14.5, "labelColor": "#000",
                       "labelPadding": 9, "labelOverlap": false, "labelFlush": false}},
        "y": {"field": "n", "type": "quantitative", "bin": {"binned": true, "step": 100},
              "scale": {"domain": [2417240, 2419440], "nice": false, "zero": false},
              "axis": {"orient": "left", "title": null, "grid": false, "domain": false,
                       "values": [2417600,2418000,2418400,2418800,2419200],
                       "format": ".2f", "tickSize": 7, "tickColor": "#8a8a8a", "tickWidth": 1.2,
                       "labelFont": "DejaVu Sans Condensed", "labelFontSize": 14.5, "labelColor": "#000",
                       "labelPadding": 1, "labelOverlap": false, "labelFlush": false}},
        "color": {"field": "v", "type": "quantitative",
                  "scale": {"type": "linear", "domain": [-0.77, 1.2, 4.8, 7.8, 13.2, 13.47],
                            "range": ["#ffff00", "#ffff00", "#808080", "#0000ff", "#f00000", "#f00000"],
                            "interpolate": "rgb"},
                  "legend": {"type": "gradient", "orient": "none", "legendX": 539, "legendY": 40,
                             "direction": "vertical", "title": null,
                             "gradientLength": 390, "gradientThickness": 15,
                             "gradientStrokeColor": "#333", "gradientStrokeWidth": 1,
                             "values": [0,1,2,3,4,5,6,7,8,9,10,11,12,13], "format": ".2f",
                             "labelFont": "DejaVu Sans Condensed", "labelFontSize": 10.5, "labelColor": "#000",
                             "labelOffset": 7, "labelOverlap": false}}
      }
    },
    {
      "data": {"name": "fine"},
      "mark": {"type": "rect", "binSpacing": -1, "clip": true},
      "encoding": {
        "x": {"field": "e", "type": "quantitative", "bin": {"binned": true, "step": 50}, "axis": null},
        "y": {"field": "n", "type": "quantitative", "bin": {"binned": true, "step": 50}, "axis": null},
        "color": {"field": "v", "type": "quantitative"}
      }
    },
    {
      "data": {"name": "coarse"},
      "mark": {"type": "point", "opacity": 0},
      "encoding": {
        "x": {"field": "e", "type": "quantitative",
              "axis": {"orient": "top", "title": null, "grid": false, "domain": false, "labels": false,
                       "values": [555200,555400,555600,555800,556000,556200,556400,556600,556800,557000,557200,557400],
                       "tickSize": 6, "tickColor": "#8a8a8a", "tickWidth": 1.2}},
        "y": {"field": "n", "type": "quantitative",
              "axis": {"orient": "right", "title": null, "grid": false, "domain": false, "labels": false,
                       "values": [2417600,2418000,2418400,2418800,2419200],
                       "tickSize": 6, "tickColor": "#8a8a8a", "tickWidth": 1.2}}
      }
    }
  ],
  "resolve": {"axis": {"x": "independent", "y": "independent"}}
}
